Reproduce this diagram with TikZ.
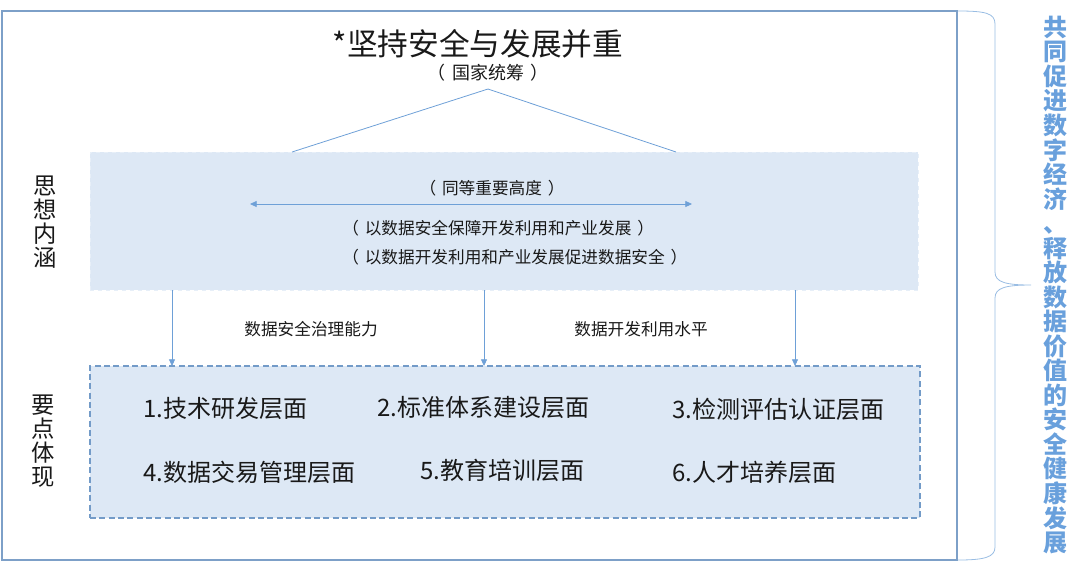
\documentclass[tikz,border=0pt]{standalone}
\usepackage{fontspec}
\setmainfont{Noto Sans CJK SC}
\usetikzlibrary{arrows.meta,positioning,fit,calc}
\definecolor{boxblue}{RGB}{221,232,245}
\definecolor{lineblue}{RGB}{110,160,215}
\definecolor{framegray}{RGB}{125,160,200}
\definecolor{dashblue}{RGB}{115,155,200}
\definecolor{textblue}{RGB}{105,160,220}
\definecolor{darktext}{RGB}{25,25,25}
\newcommand{\lp}{（\hspace{0.35em}}
\newcommand{\rp}{\hspace{0.35em}）}

\begin{document}
\begin{tikzpicture}[
  x=0.75pt, y=-0.75pt,
  title/.style={inner sep=0, text=darktext, font=\fontsize{23}{25}\selectfont},
  sub/.style={inner sep=0, text=darktext, font=\fontsize{13.5}{15}\selectfont},
  txt/.style={inner sep=0, text=darktext, font=\fontsize{12.5}{14}\selectfont},
  item/.style={inner sep=0, anchor=west, text=darktext, font=\fontsize{18}{20}\selectfont},
  side/.style={inner sep=0, align=center, text=darktext, font=\fontsize{17.5}{18}\selectfont},
  goal/.style={inner sep=0, align=center, text=textblue, font=\bfseries\fontsize{18}{18.4}\selectfont},
  thinkbox/.style={inner sep=0, fill=boxblue, draw=boxblue!70!white, dashed},
  pointbox/.style={inner sep=0, fill=boxblue, draw=dashblue, dash pattern=on 4.5pt off 2.5pt, line width=0.9pt},
  conn/.style={draw=lineblue, line width=0.6pt},
  arr/.style={conn, -{Triangle[length=5pt,width=4.5pt]}},
  darr/.style={conn, {Triangle[length=5pt,width=4.5pt]}-{Triangle[length=5pt,width=4.5pt]}}
]
\useasboundingbox (0,0) rectangle (1080,569);

% outer frame
\node (frame) [fit={(2,11) (957,560)}, inner sep=0, draw=framegray, line width=0.8pt] {};

% top
\node (head) [title] at (478,44) {*坚持安全与发展并重};
\node (state) [sub] at (488,73) {\lp 国家统筹\rp};

% thinking box
\node (think) [thinkbox, fit={(90,152) (918,290)}] {};
\coordinate (apex) at (488,89);
\coordinate (tl) at (292,152);
\coordinate (tr) at (676,152);
\draw[conn] (tl) -- (apex) -- (tr);

\node (equal) [txt] at (492,188) {\lp 同等重要高度\rp};
\coordinate (al) at (250,204);
\coordinate (ar) at (692,204);
\draw[darr] (al) -- (ar);
\node (line1) [txt, anchor=west] at (342,228) {\lp 以数据安全保障开发利用和产业发展\rp};
\node (line2) [txt, anchor=west] at (342,257) {\lp 以数据开发利用和产业发展促进数据安全\rp};

\node (idea) [side] at (45,222) {思\\想\\内\\涵};

% points box
\node (points) [pointbox, fit={(90,366) (920,518)}] {};
\foreach \x [count=\i] in {172,484,795}{
  \coordinate (d\i) at (\x,366);
  \draw[arr] (think.south -| d\i) -- (d\i);
}
\node (gov) [txt] at (311,329) {数据安全治理能力};
\node (use) [txt] at (641,329) {数据开发利用水平};

\node (p1) [item] at (143,408) {1.技术研发层面};
\node (p2) [item] at (377,407) {2.标准体系建设层面};
\node (p3) [item] at (672,409) {3.检测评估认证层面};
\node (p4) [item] at (143,472) {4.数据交易管理层面};
\node (p5) [item] at (420,470) {5.教育培训层面};
\node (p6) [item] at (672,472) {6.人才培养层面};

\node (show) [side] at (43,441) {要\\点\\体\\现};

% brace and goal
\coordinate (bt) at (958,11);
\coordinate (bm) at (1031,285);
\coordinate (bb) at (958,560);
\draw[draw=lineblue!70!white, line width=0.6pt]
  (bt) .. controls (985,11) and (995,13) .. (995,24)
  -- (995,272) .. controls (995,282) and (1005,285) .. (bm)
  .. controls (1005,285) and (995,288) .. (995,298)
  -- (995,547) .. controls (995,557) and (985,560) .. (bb);
\node (goal) [goal] at (1055,285) {共\\同\\促\\进\\数\\字\\经\\济\\、\\释\\放\\数\\据\\价\\值\\的\\安\\全\\健\\康\\发\\展};
\end{tikzpicture}
\end{document}
